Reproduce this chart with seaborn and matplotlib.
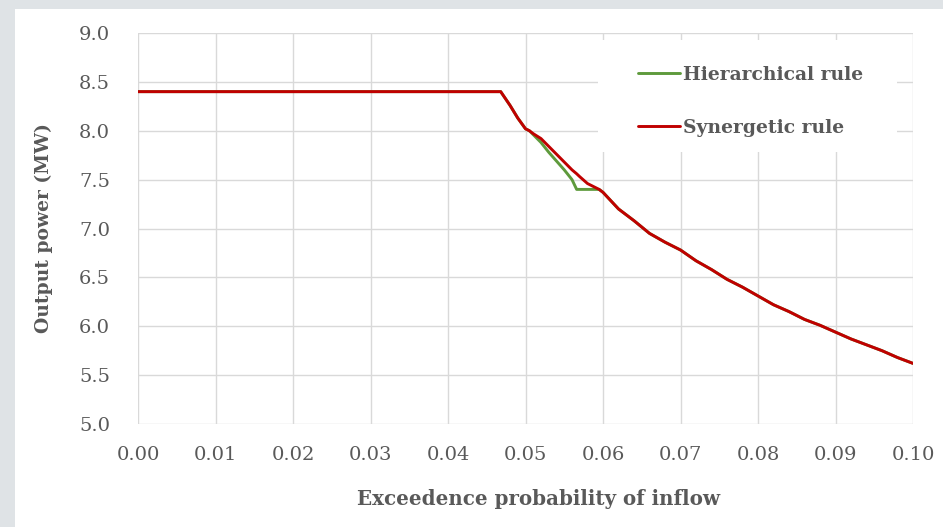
import matplotlib
matplotlib.use("Agg")
import matplotlib.pyplot as plt
import numpy as np
import pandas as pd
import seaborn as sns
from matplotlib.patches import Rectangle

# Exceedence probability of inflow and resulting output power (MW)
prob = [0.000, 0.0468, 0.048, 0.049, 0.050, 0.0505, 0.051, 0.052, 0.053, 0.054,
        0.055, 0.056, 0.0566, 0.057, 0.058, 0.059, 0.0595, 0.060, 0.062, 0.064,
        0.066, 0.068, 0.070, 0.072, 0.074, 0.076, 0.078, 0.080, 0.082, 0.084,
        0.086, 0.088, 0.090, 0.092, 0.094, 0.096, 0.098, 0.100]

hierarchical = [8.40, 8.40, 8.26, 8.13, 8.02, 8.00, 7.96, 7.88, 7.78, 7.69,
                7.60, 7.50, 7.40, 7.40, 7.40, 7.40, 7.40, 7.37, 7.20, 7.08,
                6.95, 6.86, 6.78, 6.67, 6.58, 6.48, 6.40, 6.31, 6.22, 6.15,
                6.07, 6.01, 5.94, 5.87, 5.81, 5.75, 5.68, 5.62]

synergetic = [8.40, 8.40, 8.26, 8.13, 8.02, 8.00, 7.97, 7.92, 7.84, 7.76,
              7.68, 7.60, 7.56, 7.53, 7.46, 7.42, 7.40, 7.37, 7.20, 7.08,
              6.95, 6.86, 6.78, 6.67, 6.58, 6.48, 6.40, 6.31, 6.22, 6.15,
              6.07, 6.01, 5.94, 5.87, 5.81, 5.75, 5.68, 5.62]

series_names = ["Hierarchical rule", "Synergetic rule"]
x_ticks = [0.00, 0.01, 0.02, 0.03, 0.04, 0.05, 0.06, 0.07, 0.08, 0.09, 0.10]
y_ticks = [5.0, 5.5, 6.0, 6.5, 7.0, 7.5, 8.0, 8.5, 9.0]

df = pd.concat([
    pd.DataFrame({"prob": prob, "power": hierarchical, "rule": series_names[0]}),
    pd.DataFrame({"prob": prob, "power": synergetic, "rule": series_names[1]}),
])

sns.set_theme(style="whitegrid")
plt.rcParams["font.family"] = ["DejaVu Serif"]
text_color = "#595959"
grid_color = "#d9d9d9"

W, H = 943, 527
fig = plt.figure(figsize=(W / 100, H / 100), dpi=100, facecolor="#dfe3e6")
# white panel inset on the grey page
fig.patches.append(Rectangle((15 / W, 0), 1 - 15 / W, 1 - 9 / H,
                             transform=fig.transFigure, facecolor="white",
                             edgecolor="none", zorder=-10))

ax = fig.add_axes([138 / W, 1 - 424 / H, (913 - 138) / W, (424 - 33) / H])
ax.set_facecolor("white")

palette = {series_names[0]: "#5e9a3c", series_names[1]: "#c00000"}
sns.lineplot(data=df, x="prob", y="power", hue="rule", hue_order=series_names,
             palette=palette, linewidth=2.1, ax=ax, estimator=None, sort=False)

ax.set_xlim(0, 0.10)
ax.set_ylim(5.0, 9.0)
ax.set_xticks(x_ticks)
ax.set_yticks(y_ticks)
ax.set_xticklabels([f"{v:.2f}" for v in x_ticks])
ax.set_yticklabels([f"{v:.1f}" for v in y_ticks])
ax.grid(True, color=grid_color, linewidth=1.0)
for s in ax.spines.values():
    s.set_visible(False)
ax.tick_params(axis="both", length=0, labelsize=14, colors=text_color)
ax.tick_params(axis="y", pad=20)
ax.tick_params(axis="x", pad=16)

ax.set_xlabel("Exceedence probability of inflow", fontsize=14.3,
              fontweight="bold", color=text_color, labelpad=18)
ax.xaxis.label.set_x(0.517)
ax.set_ylabel("Output power (MW)", fontsize=13.5, fontweight="bold",
              color=text_color, labelpad=19)

# white legend area that interrupts the grid
ax.add_patch(Rectangle((598 / W, 1 - 152 / H), (897 - 598) / W, (152 - 40) / H,
                       transform=fig.transFigure, facecolor="white",
                       edgecolor="none", zorder=1))

handles, labels = ax.get_legend_handles_labels()
leg = ax.legend(handles, labels, loc="upper left",
                bbox_to_anchor=(638 / W, 1 - 66 / H),
                bbox_transform=fig.transFigure, frameon=False,
                handlelength=2.25, handletextpad=0.15, labelspacing=1.85,
                borderpad=0, borderaxespad=0,
                prop={"size": 13.5, "weight": "bold"})
for t in leg.get_texts():
    t.set_color(text_color)

fig.savefig("out.png", dpi=100, facecolor=fig.get_facecolor())
